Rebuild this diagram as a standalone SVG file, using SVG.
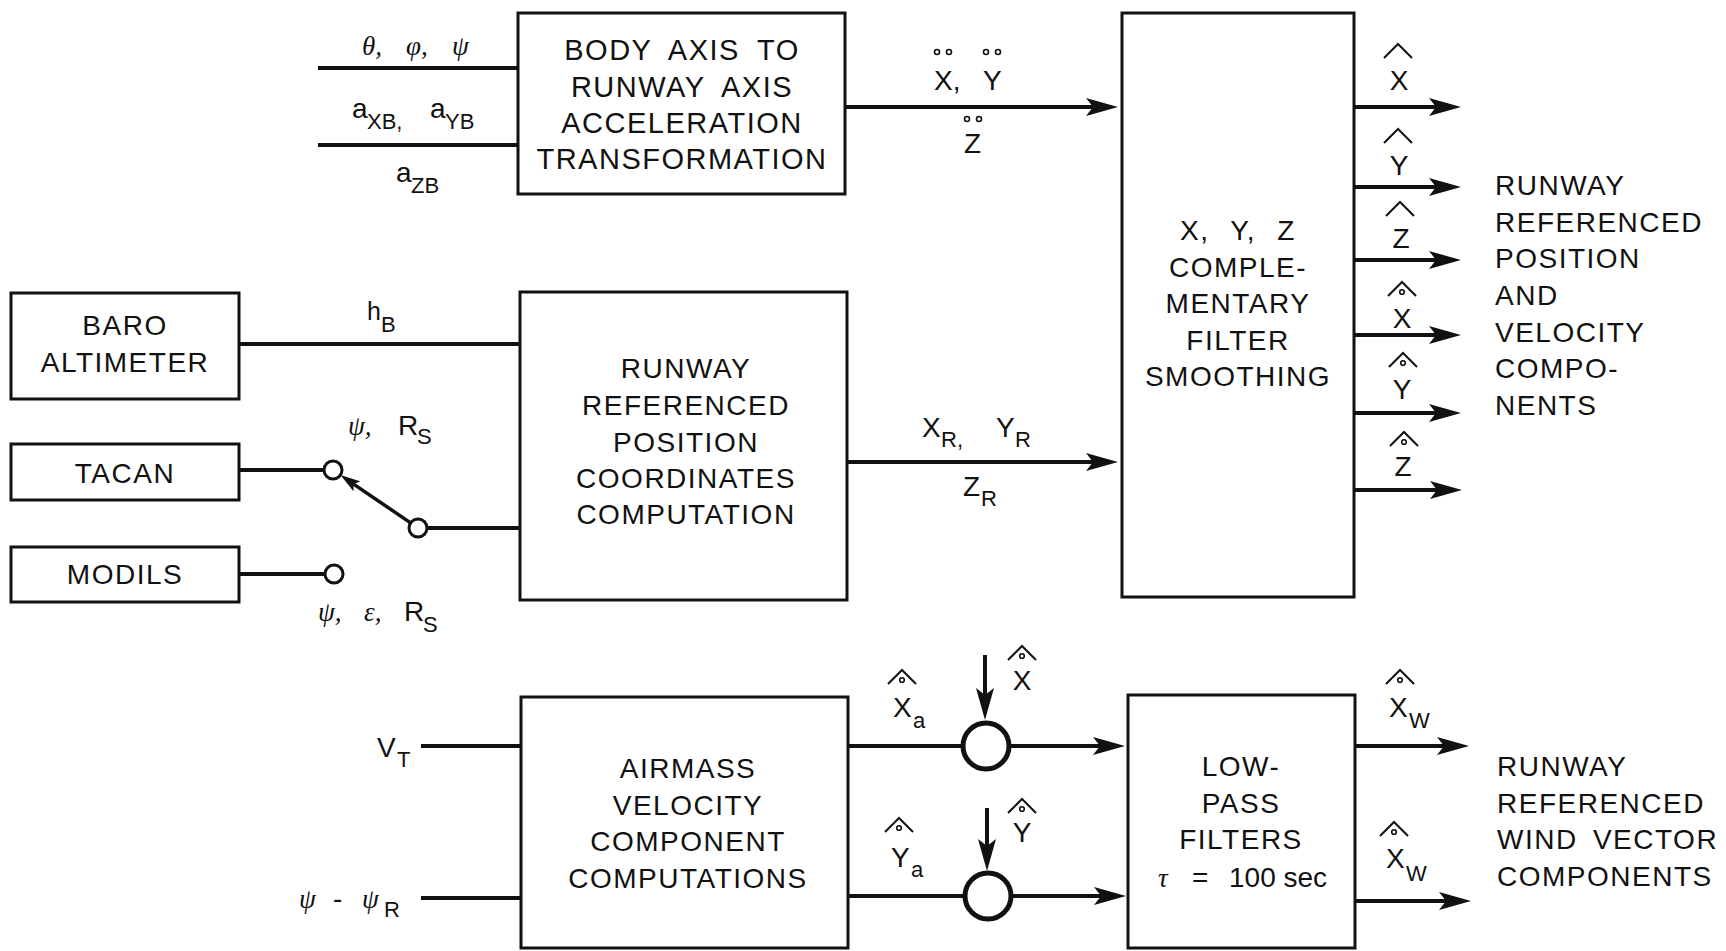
<svg xmlns="http://www.w3.org/2000/svg" width="1726" height="951" viewBox="0 0 1726 951">
<defs>
<style>
.box{fill:#fff;stroke:#111;stroke-width:3}
.bt{font-family:"Liberation Sans",Arial,sans-serif;font-size:28px;letter-spacing:1.5px;fill:#111;text-anchor:middle}
.bb{font-size:29px;word-spacing:8px}
.rt{font-family:"Liberation Sans",Arial,sans-serif;font-size:28px;letter-spacing:1.5px;fill:#111}
.lt{font-family:"Liberation Sans",Arial,sans-serif;font-size:28px;fill:#111}
.mid{text-anchor:middle}
.sub{font-size:22px}
.gk{font-family:"Liberation Serif","Times New Roman",serif;font-style:italic;font-size:27px;fill:#111}
.ln{fill:none;stroke:#111;stroke-width:4}
.ar{fill:none;stroke:#111;stroke-width:4;marker-end:url(#ah)}
.ars{fill:none;stroke:#111;stroke-width:3.5;marker-end:url(#ahs)}
.hat{fill:none;stroke:#111;stroke-width:2}
.dot{fill:none;stroke:#111;stroke-width:1.6}
.sw{fill:#fff;stroke:#111;stroke-width:3}
.sum{fill:#fff;stroke:#111;stroke-width:5}
</style>
<marker id="ah" markerUnits="userSpaceOnUse" viewBox="0 0 32 18" markerWidth="32" markerHeight="18" refX="7" refY="9" orient="auto"><path d="M0,0 L32,9 L0,18 L7,9 Z" fill="#111"/></marker>
<marker id="ahs" markerUnits="userSpaceOnUse" viewBox="0 0 20 12" markerWidth="20" markerHeight="12" refX="4" refY="6" orient="auto"><path d="M0,0 L20,6 L0,12 L4,6 Z" fill="#111"/></marker>
<path id="hat" class="hat" d="M-14,14 L0,0 L14,14"/>
<g id="hatd"><path class="hat" d="M-14,14 L0,0 L14,14"/><circle class="dot" cx="0" cy="10" r="2.3"/></g>
<g id="dd"><circle class="dot" cx="-6" cy="0" r="2.5"/><circle class="dot" cx="6" cy="0" r="2.5"/></g>
</defs>
<rect width="1726" height="951" fill="#fff"/>

<g id="connectors">
<path class="ln" d="M318,68 H518"/>
<path class="ln" d="M318,145 H518"/>
<path class="ar" d="M845,107 H1093"/>
<path class="ln" d="M239,344 H520"/>
<path class="ln" d="M239,470 H324"/>
<path class="ln" d="M239,574 H325"/>
<path class="ln" d="M427,528 H520"/>
<path class="ars" d="M410.6,522.9 L353.6,484.1"/>
<path class="ar" d="M847,462 H1093"/>
<path class="ar" d="M1354,107 H1436"/>
<path class="ar" d="M1354,187 H1436"/>
<path class="ar" d="M1354,260 H1436"/>
<path class="ar" d="M1354,335 H1436"/>
<path class="ar" d="M1354,413 H1436"/>
<path class="ar" d="M1354,490 H1437"/>
<path class="ln" d="M421,746 H521"/>
<path class="ln" d="M421,898 H521"/>
<path class="ln" d="M848,746 H963"/>
<path class="ar" d="M1009,746 H1100"/>
<path class="ln" d="M848,896 H965"/>
<path class="ar" d="M1011,896 H1101"/>
<path class="ar" d="M985,655 V695"/>
<path class="ar" d="M987,808 V846"/>
<path class="ar" d="M1355,746 H1444"/>
<path class="ar" d="M1355,901 H1446"/>
</g>

<g id="node-body">
<rect class="box" x="518" y="13" width="327" height="181"/>
<text class="bt bb" x="682"><tspan x="682" y="60">BODY AXIS TO</tspan><tspan x="682" y="97">RUNWAY AXIS</tspan><tspan x="682" y="133">ACCELERATION</tspan><tspan x="682" y="169">TRANSFORMATION</tspan></text>
</g>
<g id="node-filter">
<rect class="box" x="1122" y="13" width="232" height="584"/>
<text class="bt" x="1238"><tspan x="1238" y="240" style="word-spacing:12px">X, Y, Z</tspan><tspan x="1238" y="277">COMPLE-</tspan><tspan x="1238" y="313">MENTARY</tspan><tspan x="1238" y="350">FILTER</tspan><tspan x="1238" y="386">SMOOTHING</tspan></text>
</g>
<g id="node-baro">
<rect class="box" x="11" y="293" width="228" height="106"/>
<text class="bt" x="125"><tspan x="125" y="335">BARO</tspan><tspan x="125" y="372">ALTIMETER</tspan></text>
</g>
<g id="node-tacan">
<rect class="box" x="11" y="444" width="228" height="56"/>
<text class="bt" x="125" y="483">TACAN</text>
</g>
<g id="node-modils">
<rect class="box" x="11" y="547" width="228" height="55"/>
<text class="bt" x="125" y="584">MODILS</text>
</g>
<g id="node-switch">
<circle class="sw" cx="333" cy="470" r="9"/>
<circle class="sw" cx="334" cy="574" r="9"/>
<circle class="sw" cx="418" cy="528" r="9"/>
</g>
<g id="node-runway">
<rect class="box" x="520" y="292" width="327" height="308"/>
<text class="bt" x="686"><tspan x="686" y="378">RUNWAY</tspan><tspan x="686" y="415">REFERENCED</tspan><tspan x="686" y="452">POSITION</tspan><tspan x="686" y="488">COORDINATES</tspan><tspan x="686" y="524">COMPUTATION</tspan></text>
</g>
<g id="node-airmass">
<rect class="box" x="521" y="697" width="327" height="251"/>
<text class="bt" x="688"><tspan x="688" y="778">AIRMASS</tspan><tspan x="688" y="815">VELOCITY</tspan><tspan x="688" y="851">COMPONENT</tspan><tspan x="688" y="888">COMPUTATIONS</tspan></text>
</g>
<g id="node-sum-x"><circle class="sum" cx="986" cy="746" r="23"/></g>
<g id="node-sum-y"><circle class="sum" cx="988" cy="896" r="23"/></g>
<g id="node-lowpass">
<rect class="box" x="1128" y="695" width="227" height="253"/>
<text class="bt" x="1241"><tspan x="1241" y="776">LOW-</tspan><tspan x="1241" y="813">PASS</tspan><tspan x="1241" y="849">FILTERS</tspan></text>
<text y="887"><tspan class="gk" x="1158">τ</tspan><tspan class="lt" x="1192">=</tspan><tspan class="lt" x="1229">100 sec</tspan></text>
</g>

<g id="labels">
<text y="55"><tspan class="gk" x="362">θ,</tspan><tspan class="gk" x="406">φ,</tspan><tspan class="gk" x="452">ψ</tspan></text>
<text class="lt" y="118"><tspan x="352">a</tspan><tspan class="sub" x="367" dy="11">XB,</tspan><tspan x="430" dy="-11">a</tspan><tspan class="sub" x="445" dy="11">YB</tspan></text>
<text class="lt" y="182"><tspan x="396">a</tspan><tspan class="sub" x="411" dy="11">ZB</tspan></text>
<text class="lt" y="90"><tspan x="934">X,</tspan><tspan x="983">Y</tspan></text>
<use href="#dd" x="943" y="52"/><use href="#dd" x="992" y="52"/>
<text class="lt" x="964" y="153">Z</text>
<use href="#dd" x="973" y="119"/>

<text class="lt mid" x="1399" y="90">X</text><use href="#hat" x="1398" y="44"/>
<text class="lt mid" x="1399" y="175">Y</text><use href="#hat" x="1398" y="129"/>
<text class="lt mid" x="1401" y="248">Z</text><use href="#hat" x="1400" y="202"/>
<text class="lt mid" x="1402" y="328">X</text><use href="#hatd" x="1402" y="282"/>
<text class="lt mid" x="1402" y="399">Y</text><use href="#hatd" x="1403" y="353"/>
<text class="lt mid" x="1403" y="476">Z</text><use href="#hatd" x="1404" y="432"/>

<text class="rt" x="1495"><tspan x="1495" y="195">RUNWAY</tspan><tspan x="1495" y="232">REFERENCED</tspan><tspan x="1495" y="268">POSITION</tspan><tspan x="1495" y="305">AND</tspan><tspan x="1495" y="342">VELOCITY</tspan><tspan x="1495" y="378">COMPO-</tspan><tspan x="1495" y="415">NENTS</tspan></text>

<text class="lt" y="320"><tspan x="367" style="font-size:25px">h</tspan><tspan class="sub" x="381" dy="12">B</tspan></text>
<text y="435"><tspan class="gk" x="348">ψ,</tspan><tspan class="lt" x="398">R</tspan><tspan class="lt sub" x="417" dy="9">S</tspan></text>
<text y="621"><tspan class="gk" x="318">ψ,</tspan><tspan class="gk" x="364">ε,</tspan><tspan class="lt" x="404">R</tspan><tspan class="lt sub" x="423" dy="11">S</tspan></text>

<text y="437"><tspan class="lt" x="922">X</tspan><tspan class="lt sub" x="941" dy="10">R,</tspan><tspan class="lt" x="996" dy="-10">Y</tspan><tspan class="lt sub" x="1015" dy="10">R</tspan></text>
<text y="496"><tspan class="lt" x="963">Z</tspan><tspan class="lt sub" x="981" dy="10">R</tspan></text>

<text y="757"><tspan class="lt" x="377">V</tspan><tspan class="lt sub" x="397" dy="10">T</tspan></text>
<text y="908"><tspan class="gk" x="299">ψ</tspan><tspan class="lt" x="333">-</tspan><tspan class="gk" x="362">ψ</tspan><tspan class="lt sub" x="384" dy="9">R</tspan></text>

<text y="717"><tspan class="lt" x="893">X</tspan><tspan class="lt sub" x="913" dy="11">a</tspan></text><use href="#hatd" x="902" y="670"/>
<text class="lt mid" x="1022" y="690">X</text><use href="#hatd" x="1022" y="646"/>
<text y="867"><tspan class="lt" x="891">Y</tspan><tspan class="lt sub" x="911" dy="10">a</tspan></text><use href="#hatd" x="899" y="818"/>
<text class="lt mid" x="1022" y="842">Y</text><use href="#hatd" x="1022" y="799"/>

<text y="717"><tspan class="lt" x="1389">X</tspan><tspan class="lt sub" x="1409" dy="11">W</tspan></text><use href="#hatd" x="1400" y="670"/>
<text y="868"><tspan class="lt" x="1386">X</tspan><tspan class="lt sub" x="1406" dy="13">W</tspan></text><use href="#hatd" x="1394" y="822"/>

<text class="rt" x="1497"><tspan x="1497" y="776">RUNWAY</tspan><tspan x="1497" y="813">REFERENCED</tspan><tspan x="1497" y="849" style="word-spacing:6px">WIND VECTOR</tspan><tspan x="1497" y="886">COMPONENTS</tspan></text>
</g>
</svg>
